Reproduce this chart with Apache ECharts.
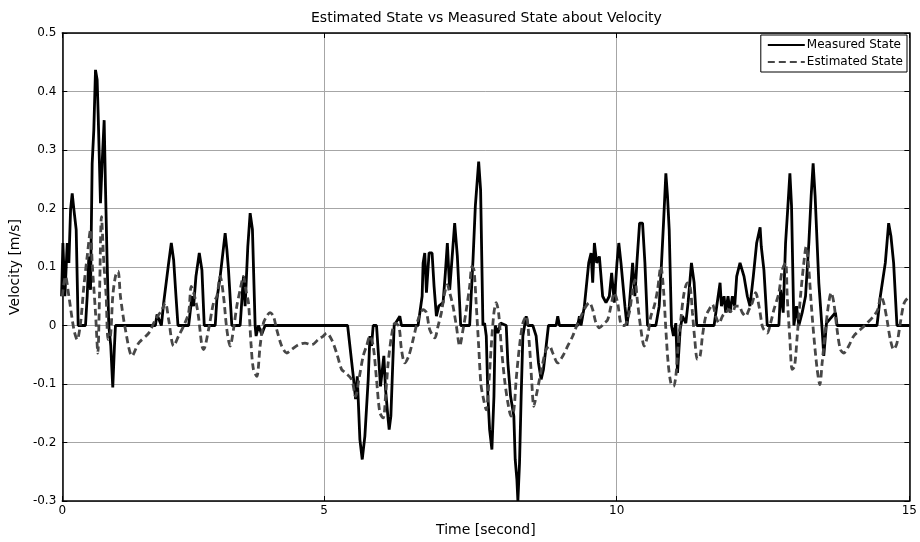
<!DOCTYPE html>
<html>
<head>
<meta charset="utf-8">
<script src="https://cdn.jsdelivr.net/npm/echarts@6/dist/echarts.min.js"></script>
<style>
  html, body { margin: 0; padding: 0; background: #fff; }
  #chart { width: 920px; height: 542px; }
</style>
</head>
<body>
<div id="chart"></div>
<script>
// time axis in the picture starts a little after 0 (left edge labelled "0")
const timeStart = 0.529;
const timeEnd = 15;
const timeTicks = [0.529, 5, 10, 15];
const timeTickLabels = ["0", "5", "10", "15"];

const measuredTime = [
  0.516, 0.539, 0.573, 0.613, 0.641, 0.670, 0.698, 0.727, 0.766, 0.800, 0.925, 0.954, 0.982, 1.011,
  1.039, 1.067, 1.096, 1.124, 1.141, 1.181, 1.209, 1.244, 1.266, 1.295, 1.323, 1.357, 1.391, 1.420,
  1.437, 2.119, 2.147, 2.221, 2.261, 2.346, 2.391, 2.431, 2.471, 2.505, 2.687, 2.744, 2.772, 2.812,
  2.869, 2.914, 2.954, 3.141, 3.169, 3.226, 3.311, 3.340, 3.368, 3.425, 3.567, 3.624, 3.652, 3.698,
  3.738, 3.777, 3.823, 3.840, 3.880, 3.936, 3.993, 5.403, 5.500, 5.539, 5.568, 5.613, 5.653, 5.698,
  5.755, 5.784, 5.812, 5.840, 5.897, 5.965, 6.022, 6.051, 6.096, 6.113, 6.142, 6.198, 6.295, 6.323,
  6.607, 6.676, 6.693, 6.721, 6.750, 6.795, 6.846, 6.880, 6.920, 6.960, 7.034, 7.073, 7.107, 7.147,
  7.232, 7.278, 7.335, 7.488, 7.545, 7.585, 7.642, 7.675, 7.715, 7.743, 7.772, 7.800, 7.829, 7.868,
  7.903, 7.925, 7.971, 8.016, 8.113, 8.141, 8.187, 8.243, 8.266, 8.295, 8.312, 8.340, 8.368, 8.397,
  8.454, 8.482, 8.567, 8.624, 8.664, 8.709, 8.749, 8.795, 8.834, 8.965, 8.993, 9.022, 9.334, 9.363,
  9.391, 9.448, 9.522, 9.562, 9.590, 9.619, 9.658, 9.704, 9.760, 9.817, 9.874, 9.914, 9.959, 10.005,
  10.036, 10.073, 10.101, 10.141, 10.175, 10.215, 10.272, 10.311, 10.345, 10.391, 10.442, 10.482,
  10.527, 10.669, 10.726, 10.766, 10.800, 10.840, 10.868, 10.897, 10.936, 10.970, 11.010, 11.039,
  11.084, 11.124, 11.181, 11.220, 11.277, 11.323, 11.368, 11.664, 11.709, 11.766, 11.789, 11.834,
  11.863, 11.902, 11.936, 11.976, 12.016, 12.050, 12.107, 12.175, 12.232, 12.277, 12.334, 12.391,
  12.450, 12.470, 12.515, 12.572, 12.771, 12.800, 12.845, 12.885, 12.925, 12.959, 12.987, 13.027,
  13.072, 13.112, 13.169, 13.226, 13.283, 13.322, 13.356, 13.390, 13.453, 13.510, 13.538, 13.584,
  13.737, 13.765, 14.447, 14.504, 14.589, 14.646, 14.686, 14.731, 14.788, 15.000
];
const measuredVelocity = [
  0.05, 0.141, 0.05, 0.141, 0.107, 0.198, 0.226, 0.198, 0.164, 0, 0, 0.05, 0.118, 0.061,
  0.277, 0.334, 0.437, 0.42, 0.363, 0.209, 0.277, 0.351, 0.238, 0.107, 0, -0.035, -0.106, -0.035,
  0, 0, 0.019, 0, 0.039, 0.107, 0.141, 0.112, 0.05, 0, 0, 0.05, 0.033, 0.084,
  0.124, 0.095, 0, 0, 0.044, 0.084, 0.158, 0.13, 0.095, 0, 0, 0.084, 0.033, 0.135,
  0.192, 0.164, 0, -0.018, 0, -0.015, 0, 0, -0.087, -0.126, -0.087, -0.195, -0.229, -0.189,
  -0.092, -0.018, -0.035, 0, 0, -0.104, -0.052, -0.109, -0.161, -0.178, -0.155, 0, 0.016, 0,
  0, 0.05, 0.107, 0.124, 0.056, 0.124, 0.124, 0.067, 0.016, 0.033, 0.039, 0.09, 0.141, 0.061,
  0.175, 0.118, 0, 0, 0.112, 0.204, 0.28, 0.232, 0, 0.004, -0.018, -0.121, -0.178, -0.212,
  -0.121, 0, -0.013, 0.004, 0, -0.064, -0.121, -0.155, -0.229, -0.263, -0.3, -0.235, -0.121, -0.018,
  0.016, 0, 0, -0.018, -0.064, -0.092, -0.075, -0.035, 0, 0, 0.016, 0, 0, 0.016,
  0, 0.033, 0.107, 0.124, 0.073, 0.141, 0.107, 0.118, 0.05, 0.039, 0.05, 0.09, 0.039, 0.107,
  0.141, 0.107, 0.107, 0.033, 0, 0.033, 0.107, 0.05, 0.107, 0.175, 0.175, 0.107,
  0, 0, 0.033, 0.107, 0.175, 0.26, 0.221, 0.164, 0, -0.018, 0.004, -0.081,
  -0.007, 0.016, 0.004, 0.039, 0.107, 0.073, 0, 0, 0.033, 0.073, 0.033, 0.05,
  0.022, 0.05, 0.022, 0.05, 0.033, 0.084, 0.107, 0.084, 0.05, 0.033, 0.084, 0.141,
  0.168, 0.135, 0.095, 0, 0, 0.061, 0.022, 0.141, 0.204, 0.26, 0.204, 0,
  0.033, 0, 0.022, 0.05, 0.141, 0.221, 0.277, 0.221, 0.073, -0.007, -0.052, 0.004,
  0.022, 0, 0, 0.05, 0.107, 0.175, 0.152, 0.107, 0, 0
];

const estimatedTime = [
  0.529, 0.584, 0.641, 0.727, 0.783, 0.840, 0.897, 0.954, 1.011, 1.039, 1.096, 1.136, 1.164, 1.198,
  1.238, 1.278, 1.312, 1.352, 1.391, 1.437, 1.482, 1.522, 1.607, 1.721, 1.834, 2.005, 2.119, 2.232,
  2.289, 2.346, 2.431, 2.516, 2.601, 2.687, 2.732, 2.789, 2.846, 2.914, 2.942, 3.027, 3.113, 3.169,
  3.226, 3.283, 3.340, 3.397, 3.453, 3.510, 3.567, 3.624, 3.664, 3.709, 3.755, 3.794, 3.851, 3.908,
  3.965, 4.022, 4.078, 4.135, 4.192, 4.277, 4.363, 4.448, 4.561, 4.675, 4.789, 4.902, 4.987, 5.044,
  5.130, 5.215, 5.300, 5.357, 5.471, 5.539, 5.596, 5.670, 5.727, 5.784, 5.840, 5.897, 5.954, 6.011,
  6.051, 6.096, 6.153, 6.210, 6.278, 6.323, 6.380, 6.448, 6.522, 6.607, 6.693, 6.750, 6.806, 6.892,
  6.948, 7.005, 7.062, 7.107, 7.147, 7.204, 7.261, 7.318, 7.375, 7.431, 7.488, 7.528, 7.562, 7.602,
  7.642, 7.680, 7.715, 7.772, 7.812, 7.857, 7.903, 7.942, 7.982, 8.028, 8.084, 8.141, 8.198, 8.243,
  8.283, 8.340, 8.397, 8.454, 8.510, 8.550, 8.584, 8.624, 8.681, 8.737, 8.795, 8.851, 8.908, 8.993,
  9.079, 9.164, 9.249, 9.334, 9.391, 9.476, 9.533, 9.590, 9.647, 9.704, 9.789, 9.846, 9.902, 9.959,
  10.016, 10.073, 10.129, 10.215, 10.272, 10.311, 10.357, 10.414, 10.470, 10.527, 10.584, 10.641,
  10.698, 10.754, 10.800, 10.840, 10.879, 10.925, 10.970, 11.010, 11.050, 11.095, 11.152, 11.209,
  11.254, 11.294, 11.334, 11.379, 11.425, 11.465, 11.522, 11.578, 11.635, 11.692, 11.749, 11.806,
  11.863, 11.919, 11.976, 12.033, 12.090, 12.146, 12.203, 12.260, 12.317, 12.374, 12.431, 12.487,
  12.515, 12.572, 12.629, 12.686, 12.771, 12.828, 12.885, 12.913, 12.959, 12.998, 13.038, 13.084,
  13.140, 13.197, 13.237, 13.283, 13.322, 13.368, 13.425, 13.470, 13.510, 13.567, 13.623, 13.663,
  13.709, 13.765, 13.822, 13.879, 13.964, 14.050, 14.163, 14.277, 14.390, 14.459, 14.515, 14.561,
  14.618, 14.675, 14.731, 14.788, 14.845, 14.913, 15.000
];
const estimatedVelocity = [
  0.05, 0.084, 0.05, -0.007, -0.024, 0.004, 0.067, 0.118, 0.164, 0.107, 0.022, -0.047, 0.05, 0.186,
  0.107, 0.05, -0.024, -0.018, 0.05, 0.084, 0.093, 0.05, -0.007, -0.052, -0.03, -0.013, 0.01, 0.027,
  0.039, 0.01, -0.035, -0.018, -0.001, 0.022, 0.067, 0.05, 0.022, -0.035, -0.041, -0.007, 0.039, 0.05,
  0.084, 0.05, -0.007, -0.035, -0.007, 0.033, 0.061, 0.084, 0.061, 0.039, -0.035, -0.075, -0.087, -0.035,
  0.004, 0.016, 0.022, 0.016, -0.007, -0.035, -0.047, -0.041, -0.033, -0.03, -0.033, -0.024, -0.018, -0.013,
  -0.024, -0.047, -0.075, -0.08, -0.092, -0.121, -0.092, -0.052, -0.035, -0.018, -0.035, -0.092, -0.149, -0.158,
  -0.121, -0.064, -0.018, 0.004, -0.001, -0.041, -0.064, -0.052, -0.024, 0.01, 0.027, 0.022, -0.007, -0.021,
  -0.001, 0.022, 0.056, 0.07, 0.056, 0.033, -0.001, -0.035, -0.007, 0.027, 0.067, 0.101, 0.095, 0.033,
  -0.035, -0.1, -0.121, -0.144, -0.104, -0.035, 0.022, 0.039, 0.022, -0.035, -0.092, -0.132, -0.155, -0.144,
  -0.092, -0.035, 0.004, 0.016, -0.035, -0.098, -0.138, -0.121, -0.092, -0.064, -0.041, -0.035, -0.047, -0.064,
  -0.052, -0.035, -0.018, 0.004, 0.016, 0.033, 0.039, 0.027, 0.004, -0.004, 0.004, 0.01, 0.033, 0.056,
  0.039, 0.002, 0, 0.022, 0.061, 0.078, 0.039, -0.007, -0.035, -0.018, 0.016, 0.033,
  0.061, 0.101, 0.061, -0.007, -0.064, -0.098, -0.104, -0.087, -0.035, 0.01, 0.056, 0.073,
  0.067, 0.022, -0.024, -0.058, -0.052, -0.018, 0.016, 0.027, 0.036, 0.016, 0.004, 0.016,
  0.022, 0.027, 0.022, 0.033, 0.033, 0.022, 0.016, 0.027, 0.039, 0.056, 0.033, -0.001,
  -0.007, -0.013, 0.004, 0.027, 0.056, 0.095, 0.107, 0.05, -0.024, -0.075, -0.07, -0.018,
  0.05, 0.107, 0.135, 0.095, 0.039, -0.018, -0.075, -0.101, -0.064, -0.007, 0.039, 0.056,
  0.039, -0.007, -0.041, -0.047, -0.035, -0.018, -0.007, 0.004, 0.016, 0.027, 0.05, 0.039,
  0.01, -0.024, -0.041, -0.03, 0.004, 0.039, 0.05
];

const fontFamily = "DejaVu Sans";

const chartInstance = echarts.init(document.getElementById("chart"));

const zip = (xs, ys) => xs.map((x, i) => [x, ys[i]]);

const boxAxis = {
  type: "value",
  axisLine: { show: true, onZero: false, lineStyle: { color: "#000", width: 1.5 } },
  axisTick: { show: true, inside: true, length: 5, lineStyle: { color: "#000", width: 1 } },
};

const option = {
  animation: false,
  backgroundColor: "#fff",
  title: {
    text: "Estimated State vs Measured State about Velocity",
    left: 306,
    top: 6,
    textStyle: { fontFamily, fontSize: 14, fontWeight: "normal", color: "#000" },
  },
  legend: {
    orient: "vertical",
    right: 13,
    top: 35,
    backgroundColor: "#fff",
    borderColor: "#000",
    borderWidth: 1,
    borderRadius: 0,
    padding: [4, 4, 4, 6],
    itemWidth: 37,
    itemHeight: 10,
    itemGap: 5,
    itemStyle: { opacity: 0 },
    textStyle: { fontFamily, fontSize: 12, color: "#000", padding: [0, 0, 0, -3] },
  },
  grid: { left: 62, right: 10, top: 33, bottom: 40, containLabel: false },
  xAxis: [
    {
      ...boxAxis,
      position: "bottom",
      min: timeStart,
      max: timeEnd,
      axisTick: { ...boxAxis.axisTick, customValues: timeTicks },
      axisLabel: {
        customValues: timeTicks,
        formatter: (v) => {
          const i = timeTicks.indexOf(v);
          return i >= 0 ? timeTickLabels[i] : String(v);
        },
        color: "#000",
        fontFamily,
        fontSize: 12,
        margin: 4,
      },
      splitLine: { show: true, lineStyle: { color: "#a6a6a6", width: 1 } },
      name: "Time [second]",
      nameLocation: "middle",
      nameGap: 22,
      nameTextStyle: { fontFamily, fontSize: 14, color: "#000" },
    },
    {
      ...boxAxis,
      position: "top",
      min: timeStart,
      max: timeEnd,
      axisTick: { ...boxAxis.axisTick, customValues: timeTicks },
      axisLabel: { show: false },
      splitLine: { show: false },
    },
  ],
  yAxis: [
    {
      ...boxAxis,
      position: "left",
      min: -0.3,
      max: 0.5,
      interval: 0.1,
      axisLabel: {
        formatter: (v) => String(Math.round(v * 10) / 10),
        color: "#000",
        fontFamily,
        fontSize: 12,
        margin: 6,
      },
      splitLine: { show: true, lineStyle: { color: "#a6a6a6", width: 1 } },
      name: "Velocity [m/s]",
      nameLocation: "middle",
      nameGap: 37,
      nameTextStyle: { fontFamily, fontSize: 14, color: "#000" },
    },
    {
      ...boxAxis,
      position: "right",
      min: -0.3,
      max: 0.5,
      interval: 0.1,
      axisLabel: { show: false },
      splitLine: { show: false },
    },
  ],
  series: [
    {
      name: "Measured State",
      type: "line",
      symbol: "none",
      data: zip(measuredTime, measuredVelocity),
      lineStyle: { color: "#000", width: 2.8 },
      itemStyle: { color: "#000" },
      z: 2,
    },
    {
      name: "Estimated State",
      type: "line",
      symbol: "none",
      smooth: 0.3,
      data: zip(estimatedTime, estimatedVelocity),
      lineStyle: { color: "#474747", width: 2.8, type: [7, 4] },
      itemStyle: { color: "#474747" },
      z: 3,
    },
  ],
};

chartInstance.setOption(option);
</script>
</body>
</html>
